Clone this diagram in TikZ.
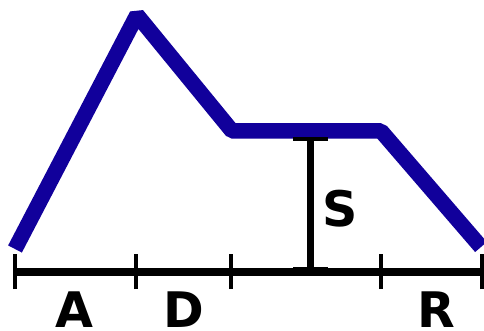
\documentclass[tikz,border=0pt]{standalone}
\usepackage{fontspec}
\setsansfont{DejaVu Sans}
\usepackage{tikz}
\usetikzlibrary{positioning}
\definecolor{envblue}{RGB}{17,0,155}

\begin{document}
\begin{tikzpicture}[
  x=1pt, y=-1pt,
  envline/.style={draw=envblue, line width=15.5pt, line join=bevel, line cap=butt},
  axisline/.style={draw=black, line width=7.5pt},
  tickline/.style={draw=black, line width=4.5pt},
  lbl/.style={font=\sffamily\bfseries\fontsize{49}{52}\selectfont, inner sep=0pt, anchor=base},
]
  \useasboundingbox (0,0) rectangle (484,331);

  % envelope corners
  \coordinate (start) at (15,249);
  \coordinate (peak) at (137,15);
  \coordinate (susA) at (232,131);
  \coordinate (susB) at (381,131);
  \coordinate (stop) at (481,247);
  \draw[envline] (start) -- (peak) -- (susA) -- (susB) -- (stop);

  % time axis
  \coordinate (ax0) at (15,272);
  \coordinate (ax1) at (136,272);
  \coordinate (ax2) at (231,272);
  \coordinate (ax3) at (381,272);
  \coordinate (ax4) at (482,272);
  \draw[axisline] (13,272) -- (484,272);
  \foreach \t in {ax0, ax1, ax2, ax3, ax4}
    \draw[tickline] ([yshift=-17pt]\t) -- ([yshift=18pt]\t);

  % sustain level
  \coordinate (stop1) at (310,139);
  \coordinate (sbot) at (310,269);
  \draw[axisline, line width=7pt] (stop1) -- (sbot);
  \draw[tickline] ([xshift=-17pt]stop1) -- ([xshift=18pt]stop1);
  \draw[tickline] ([xshift=-17pt]sbot) -- ([xshift=18pt]sbot);

  \node[lbl] (lS) at (340,226) {S};
  \node[lbl] (lA) at (74,327) {A};
  \node[lbl] (lD) at (184,327) {D};
  \node[lbl] (lR) at (436,327) {R};
\end{tikzpicture}
\end{document}
